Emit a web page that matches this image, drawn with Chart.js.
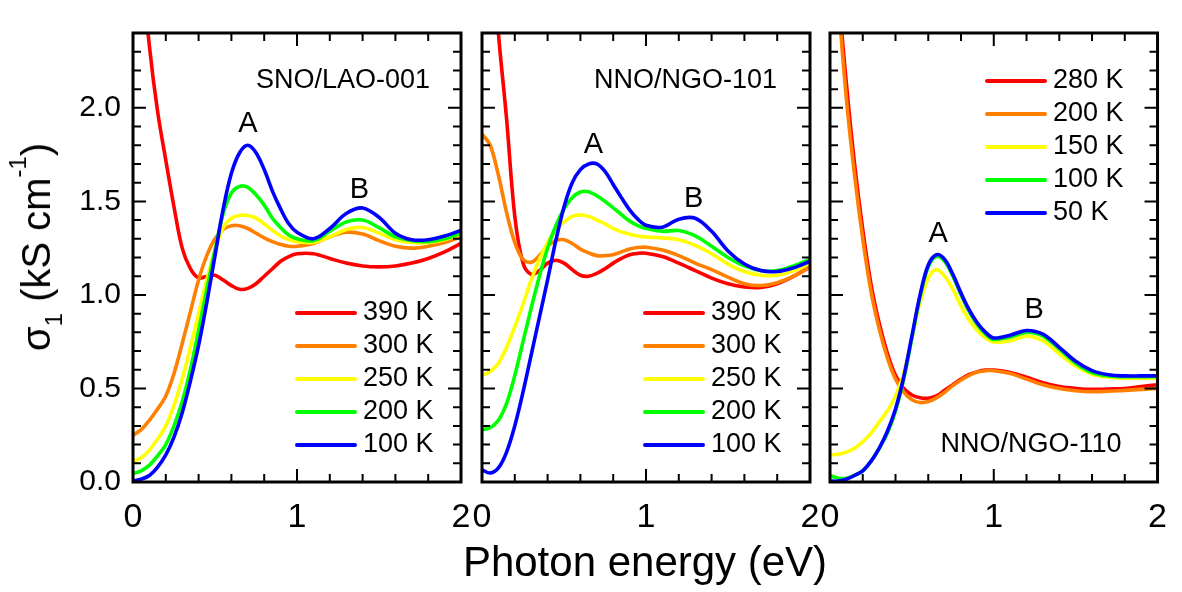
<!DOCTYPE html>
<html><head><meta charset="utf-8">
<script src="https://cdn.jsdelivr.net/npm/chart.js@4.4.1/dist/chart.umd.min.js"></script>
<style>
html,body{margin:0;padding:0;background:#fff;}
#wrap{position:relative;width:1182px;height:592px;overflow:hidden;background:#fff;font-family:'Liberation Sans',Arial,Helvetica,sans-serif;color:#000;}
canvas{position:absolute;left:0;top:0;}
#xtitle{position:absolute;left:645px;top:541px;transform:translateX(-50%);font-size:42px;line-height:42px;white-space:nowrap;}
#ytitle{position:absolute;left:36px;top:247px;transform:translate(-50%,-50%) rotate(-90deg);font-size:40px;line-height:40px;white-space:nowrap;}
.sub{font-size:24px;line-height:0;position:relative;top:12px;}
.sup{font-size:24px;line-height:0;position:relative;top:-24px;}
</style></head>
<body>
<div id="wrap">
<canvas id="c1" width="1182" height="592"></canvas>
<canvas id="c2" width="1182" height="592"></canvas>
<canvas id="c3" width="1182" height="592"></canvas>
<div id="ytitle">σ<span class="sub">1</span> (kS cm<span class="sup">-1</span>)</div>
<div id="xtitle">Photon energy (eV)</div>
</div>
<script>
// ---- data (photon energy in eV, sigma_1 in kS/cm) ----
const energy = [0,0.05,0.1,0.15,0.2,0.25,0.3,0.35,0.4,0.45,0.5,0.55,0.6,0.65,0.7,0.75,0.8,0.85,0.9,0.95,1.0,1.1,1.2,1.3,1.4,1.5,1.6,1.7,1.8,1.9,2.0];

// SNO/LAO-001
const sno390 = [3.3,2.8,2.33,1.98,1.72,1.47,1.25,1.14,1.09,1.10,1.105,1.08,1.05,1.03,1.035,1.06,1.10,1.14,1.18,1.205,1.22,1.22,1.195,1.17,1.155,1.15,1.155,1.17,1.195,1.23,1.275];
const sno300 = [0.25,0.28,0.33,0.39,0.46,0.58,0.74,0.91,1.08,1.21,1.30,1.35,1.37,1.37,1.355,1.33,1.305,1.285,1.27,1.26,1.26,1.275,1.31,1.335,1.325,1.29,1.26,1.25,1.26,1.28,1.31];
const sno250 = [0.11,0.13,0.17,0.23,0.30,0.41,0.55,0.72,0.90,1.08,1.24,1.36,1.41,1.425,1.425,1.41,1.38,1.345,1.315,1.295,1.285,1.28,1.31,1.35,1.36,1.33,1.295,1.28,1.28,1.295,1.325];
const sno200 = [0.045,0.06,0.09,0.14,0.20,0.30,0.43,0.60,0.81,1.03,1.24,1.435,1.545,1.58,1.575,1.535,1.48,1.41,1.36,1.32,1.30,1.29,1.34,1.39,1.40,1.36,1.31,1.29,1.285,1.30,1.33];
const sno100 = [0.005,0.015,0.035,0.08,0.145,0.24,0.37,0.54,0.73,0.96,1.21,1.46,1.65,1.76,1.80,1.76,1.67,1.555,1.46,1.38,1.335,1.30,1.355,1.435,1.465,1.415,1.33,1.295,1.295,1.315,1.345];

// NNO/NGO-101
const n101_390 = [3.6,3.0,2.4,1.94,1.42,1.17,1.11,1.13,1.17,1.185,1.17,1.135,1.105,1.10,1.115,1.14,1.17,1.195,1.215,1.222,1.223,1.205,1.17,1.13,1.09,1.06,1.043,1.04,1.06,1.10,1.15];
const n101_300 = [1.86,1.80,1.64,1.44,1.28,1.19,1.175,1.21,1.26,1.29,1.295,1.275,1.245,1.225,1.21,1.21,1.215,1.23,1.245,1.253,1.255,1.24,1.21,1.17,1.135,1.095,1.06,1.05,1.065,1.10,1.15];
const n101_250 = [0.57,0.59,0.635,0.72,0.83,0.95,1.08,1.19,1.28,1.35,1.39,1.42,1.428,1.42,1.40,1.38,1.355,1.337,1.325,1.315,1.31,1.305,1.295,1.265,1.22,1.165,1.125,1.105,1.105,1.13,1.17];
const n101_200 = [0.28,0.29,0.33,0.42,0.57,0.75,0.93,1.10,1.25,1.37,1.46,1.52,1.55,1.552,1.53,1.50,1.465,1.43,1.395,1.37,1.355,1.34,1.344,1.315,1.26,1.20,1.155,1.13,1.13,1.155,1.19];
const n101_100 = [0.065,0.048,0.075,0.16,0.30,0.48,0.68,0.88,1.08,1.29,1.47,1.60,1.67,1.70,1.70,1.66,1.59,1.52,1.455,1.405,1.372,1.362,1.405,1.41,1.34,1.235,1.165,1.13,1.125,1.145,1.18];

// NNO/NGO-110
const n110_280 = [3.5,2.65,2.13,1.70,1.35,1.06,0.85,0.69,0.57,0.50,0.465,0.45,0.448,0.46,0.49,0.52,0.55,0.575,0.59,0.598,0.598,0.585,0.56,0.53,0.51,0.50,0.495,0.497,0.50,0.51,0.52];
const n110_200 = [3.4,2.6,2.05,1.64,1.30,1.02,0.82,0.665,0.55,0.48,0.44,0.425,0.43,0.45,0.48,0.515,0.545,0.57,0.588,0.595,0.595,0.58,0.55,0.52,0.50,0.488,0.483,0.485,0.49,0.495,0.50];
const n110_150 = [0.145,0.148,0.16,0.18,0.215,0.26,0.32,0.38,0.46,0.58,0.77,0.96,1.09,1.135,1.10,1.03,0.94,0.865,0.81,0.77,0.748,0.755,0.78,0.755,0.685,0.62,0.577,0.56,0.555,0.555,0.555];
const n110_100 = [0.035,0.02,0.02,0.035,0.06,0.11,0.18,0.26,0.38,0.55,0.77,0.99,1.15,1.205,1.18,1.10,1.00,0.91,0.84,0.79,0.762,0.775,0.80,0.78,0.71,0.635,0.585,0.567,0.563,0.563,0.563];
const n110_50  = [0.005,0.005,0.015,0.035,0.06,0.11,0.18,0.27,0.39,0.56,0.78,1.00,1.16,1.215,1.19,1.11,1.01,0.92,0.85,0.80,0.77,0.785,0.81,0.79,0.72,0.645,0.595,0.573,0.567,0.567,0.567];

const temps123 = ['390 K','300 K','250 K','200 K','100 K'];
const temps110 = ['280 K','200 K','150 K','100 K','50 K'];
const xTickValues = [0,1,2];
const yTickValues = [0,0.5,1.0,1.5,2.0];

// ---- styles ----
const lineColors = ['#ff0000','#ff8000','#ffff00','#00ff00','#0000ff'];
const fam = "'Liberation Sans', Arial, Helvetica, sans-serif";
Chart.defaults.font.family = fam;
Chart.defaults.color = '#000';

const panels = [
  {id:'c1', left:133, right:461, series:[sno390,sno300,sno250,sno200,sno100], temps:temps123,
   name:'SNO/LAO-001', nameDx:31, nameTop:true, nameDy:55, legendTop:280, legendLeft:162, yLabels:true,
   peaks:[{t:'A',x:0.70,y:1.87},{t:'B',x:1.38,y:1.52}]},
  {id:'c2', left:482, right:810, series:[n101_390,n101_300,n101_250,n101_200,n101_100], temps:temps123,
   name:'NNO/NGO-101', nameDx:33, nameTop:true, nameDy:55, legendTop:280, legendLeft:161, yLabels:false,
   peaks:[{t:'A',x:0.68,y:1.76},{t:'B',x:1.29,y:1.47}]},
  {id:'c3', left:830, right:1158, series:[n110_280,n110_200,n110_150,n110_100,n110_50], temps:temps110,
   name:'NNO/NGO-110', nameDx:36, nameTop:false, nameDy:30, legendTop:48, legendLeft:155, yLabels:false,
   peaks:[{t:'A',x:0.66,y:1.285},{t:'B',x:1.246,y:0.875}]}
];

const decor = {
  id:'decor',
  afterDatasetsDraw(chart, args, o){
    const {ctx, chartArea:a, scales:{x, y}} = chart;
    ctx.save();
    ctx.strokeStyle = '#000'; ctx.lineWidth = 2; ctx.lineCap = 'butt';
    ctx.beginPath();
    for (let i = 1; i < 24; i++) {
      const py = y.getPixelForValue(i/10), len = (i % 5 === 0) ? 13 : 8;
      ctx.moveTo(a.left, py); ctx.lineTo(a.left + len, py);
      ctx.moveTo(a.right, py); ctx.lineTo(a.right - len, py);
    }
    for (let i = 1; i < 10; i++) {
      const px = x.getPixelForValue(i/5), len = (i === 5) ? 13 : 8;
      ctx.moveTo(px, a.bottom); ctx.lineTo(px, a.bottom - len);
      ctx.moveTo(px, a.top); ctx.lineTo(px, a.top + len);
    }
    ctx.stroke();
    ctx.lineWidth = 3;
    ctx.strokeRect(a.left, a.top, a.right - a.left, a.bottom - a.top);
    ctx.restore();
  },
  afterDraw(chart, args, o){
    const {ctx, chartArea:a, scales:{x, y}} = chart;
    ctx.save();
    ctx.fillStyle = '#000';
    ctx.font = '29px ' + fam; ctx.textAlign = 'center'; ctx.textBaseline = 'alphabetic';
    o.peaks.forEach(p => ctx.fillText(p.t, x.getPixelForValue(p.x), y.getPixelForValue(p.y)));
    ctx.font = '27px ' + fam; ctx.textAlign = 'right';
    ctx.fillText(o.name, a.right - o.nameDx, o.nameTop ? a.top + o.nameDy : a.bottom - o.nameDy);
    chart.data.datasets.forEach((ds, i) => {
      const ly = a.top + o.legendTop + i*33;
      ctx.strokeStyle = ds.borderColor; ctx.lineWidth = 4; ctx.lineCap = 'round';
      ctx.beginPath(); ctx.moveTo(a.left + o.legendLeft + 2, ly); ctx.lineTo(a.left + o.legendLeft + 60, ly); ctx.stroke();
      ctx.fillStyle = '#000'; ctx.textAlign = 'left'; ctx.textBaseline = 'middle';
      ctx.fillText(ds.label, a.left + o.legendLeft + 68, ly);
    });
    ctx.restore();
  }
};

panels.forEach(p => {
  const yW = p.yLabels ? p.left : 0;
  new Chart(document.getElementById(p.id), {
    type:'line',
    data:{ datasets: p.series.map((vals, i) => ({
      label: p.temps[i],
      data: energy.map((e, k) => ({x:e, y:vals[k]})),
      borderColor: lineColors[i], backgroundColor: lineColors[i],
      borderWidth: 3.6, pointRadius: 0, fill:false, tension: 0.35,
      order: 5 - i
    }))},
    options:{
      responsive:false, animation:false, devicePixelRatio:1, events:[],
      layout:{ padding:{ left: p.left - yW, right: 1182 - p.right, top: 33, bottom: 50 } },
      plugins:{ legend:{display:false}, tooltip:{enabled:false},
        decor:{ name:p.name, nameDx:p.nameDx, nameTop:p.nameTop, nameDy:p.nameDy,
                legendTop:p.legendTop, legendLeft:p.legendLeft, peaks:p.peaks } },
      scales:{
        x:{ type:'linear', min:0, max:2,
            afterBuildTicks: s => { s.ticks = xTickValues.map(v => ({value:v})); },
            afterFit: s => { s.height = 60; },
            grid:{display:false, drawTicks:false, tickLength:0}, border:{display:false},
            ticks:{ padding:15, color:'#000', font:{size:34}, maxRotation:0, autoSkip:false, callback: v => String(v) } },
        y:{ type:'linear', min:0, max:2.4,
            afterBuildTicks: s => { s.ticks = yTickValues.map(v => ({value:v})); },
            afterFit: s => { s.width = yW; },
            grid:{display:false, drawTicks:false, tickLength:0}, border:{display:false},
            ticks:{ display:p.yLabels, padding:12, color:'#000', font:{size:30}, callback: v => Number(v).toFixed(1) } }
      }
    },
    plugins:[decor]
  });
});
</script>
</body></html>
